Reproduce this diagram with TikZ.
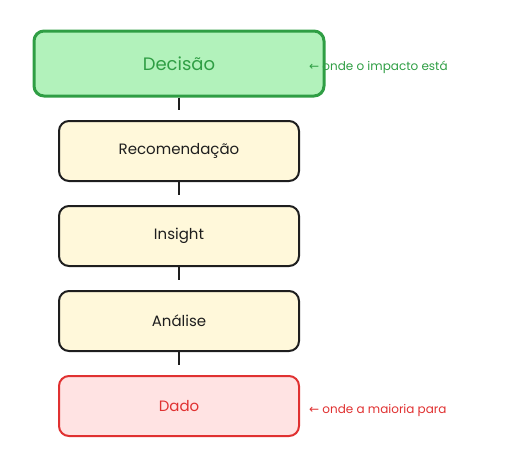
\documentclass[tikz,border=0pt]{standalone}
\usepackage{fontspec}
\setmainfont{Poppins}
\newfontfamily\arrowfont{DejaVu Sans}
\definecolor{gfill}{HTML}{B2F2BB}
\definecolor{gline}{HTML}{2F9E44}
\definecolor{yfill}{HTML}{FFF8DA}
\definecolor{kline}{HTML}{1E1E1E}
\definecolor{rfill}{HTML}{FFE3E3}
\definecolor{rline}{HTML}{E03131}
\begin{document}
\begin{tikzpicture}[x=1pt,y=-1pt,
  stage/.style={draw=kline, fill=yfill, line width=2pt, rounded corners=10pt,
    minimum width=240pt, minimum height=60pt, inner sep=0pt, text=kline,
    font=\fontsize{15}{18}\selectfont},
  link/.style={draw=kline, line width=1.6pt, shorten >=10pt},
  note/.style={anchor=west, inner sep=0pt, font=\fontsize{12}{14}\selectfont}]
\useasboundingbox (0,0) rectangle (518,471);
\node[stage, draw=gline, fill=gfill, text=gline, line width=3pt,
  minimum width=290pt, minimum height=65pt, font=\fontsize{18}{21}\selectfont]
  (dec) at (179,63.5) {Decisão};
\node[stage] (rec) at (179,151) {Recomendação};
\node[stage] (ins) at (179,236) {Insight};
\node[stage] (ana) at (179,321) {Análise};
\node[stage, draw=rline, fill=rfill, text=rline] (dad) at (179,406) {Dado};
\draw[link] (dec.south) -- (rec.north);
\draw[link] (rec.south) -- (ins.north);
\draw[link] (ins.south) -- (ana.north);
\draw[link] (ana.south) -- (dad.north);
\node[note, text=gline] (n1) at (309,67) {{\arrowfont ←} onde o impacto está};
\node[note, text=rline] (n2) at (309,410) {{\arrowfont ←} onde a maioria para};
\end{tikzpicture}
\end{document}
